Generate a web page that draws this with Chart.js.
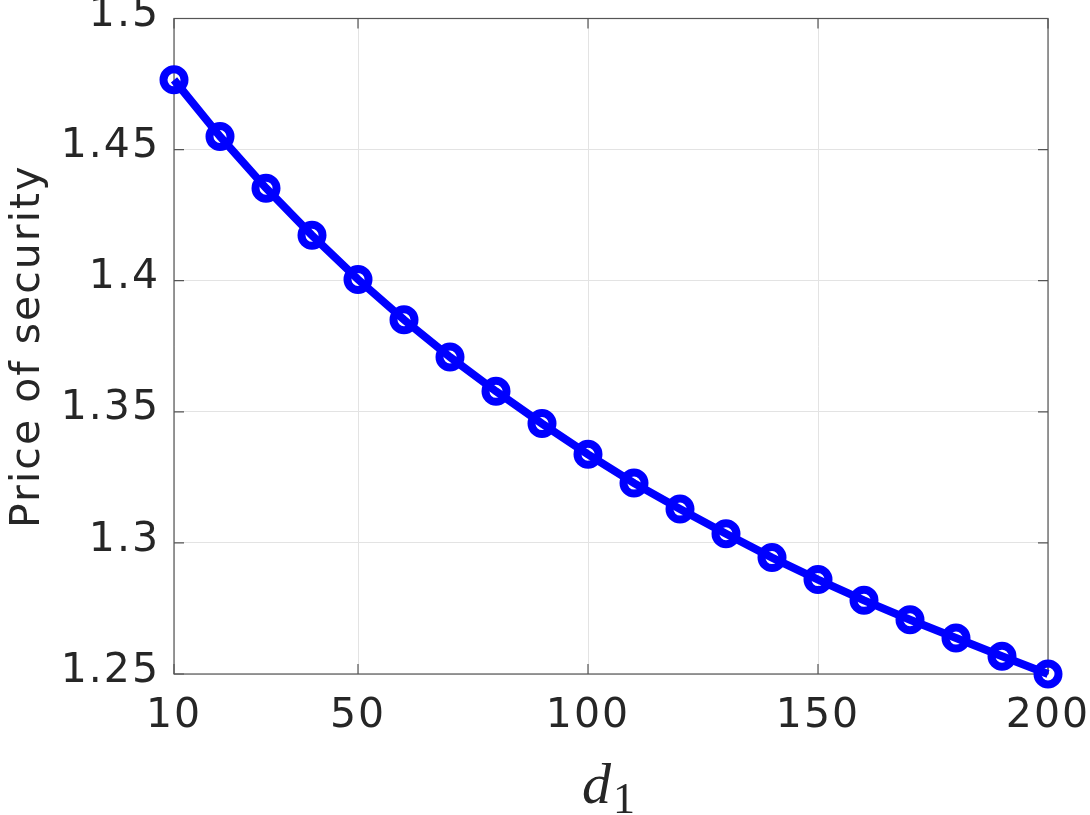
<!DOCTYPE html>
<html>
<head>
<meta charset="utf-8">
<script src="https://cdn.jsdelivr.net/npm/chart.js@4/dist/chart.umd.min.js"></script>
<style>
  html, body { margin: 0; padding: 0; background: #ffffff; }
  #wrap { width: 1090px; height: 815px; position: relative; }
</style>
</head>
<body>
<div id="wrap"><canvas id="c" width="1090" height="815"></canvas></div>
<script>
// ---- data ----
const d1Values = [10, 20, 30, 40, 50, 60, 70, 80, 90, 100, 110, 120, 130, 140, 150, 160, 170, 180, 190, 200];
const priceValues = [1.4766, 1.4550, 1.4353, 1.4173, 1.4005, 1.3851, 1.3709, 1.3578, 1.3455, 1.3338,
                     1.3228, 1.3129, 1.3035, 1.2944, 1.2860, 1.2781, 1.2707, 1.2637, 1.2568, 1.2500];
const xTickValues = [10, 50, 100, 150, 200];
const yTickValues = [1.25, 1.3, 1.35, 1.4, 1.45, 1.5];
const yAxisTitle = 'Price of security';
const xAxisTitleMain = 'd';
const xAxisTitleSub = '1';

const textColor = '#262626';
const tickFont = { family: 'DejaVu Sans', size: 41 };

const boxPlugin = {
  id: 'matlabBox',
  beforeDraw(chart) {
    chart.ctx.letterSpacing = '2px';
  },
  beforeDatasetsDraw(chart) {
    const { ctx, chartArea: a, scales } = chart;
    ctx.save();
    ctx.letterSpacing = '0px';
    ctx.strokeStyle = '#555555';
    ctx.lineWidth = 1.2;
    ctx.strokeRect(a.left, a.top, a.right - a.left, a.bottom - a.top);
    const tl = 10;
    ctx.beginPath();
    xTickValues.forEach(v => {
      const px = scales.x.getPixelForValue(v);
      ctx.moveTo(px, a.bottom); ctx.lineTo(px, a.bottom - tl);
      ctx.moveTo(px, a.top); ctx.lineTo(px, a.top + tl);
    });
    yTickValues.forEach(v => {
      const py = scales.y.getPixelForValue(v);
      ctx.moveTo(a.left, py); ctx.lineTo(a.left + tl, py);
      ctx.moveTo(a.right, py); ctx.lineTo(a.right - tl, py);
    });
    ctx.stroke();
    ctx.restore();
  },
  afterDraw(chart) {
    const { ctx, chartArea: a } = chart;
    ctx.save();
    ctx.letterSpacing = '0px';
    ctx.fillStyle = textColor;
    ctx.textBaseline = 'alphabetic';
    ctx.textAlign = 'left';
    const cx = (a.left + a.right) / 2;
    ctx.font = 'italic 58px "Liberation Serif"';
    ctx.fillText(xAxisTitleMain, cx - 29, 803);
    ctx.font = '44px "Liberation Serif"';
    ctx.fillText(xAxisTitleSub, cx + 2, 813);
    ctx.restore();
  }
};

new Chart(document.getElementById('c'), {
  type: 'line',
  data: {
    datasets: [{
      data: d1Values.map((x, i) => ({ x: x, y: priceValues[i] })),
      borderColor: '#0000ff',
      borderWidth: 8,
      tension: 0,
      fill: false,
      pointRadius: 10.5,
      pointHoverRadius: 10.5,
      pointBorderWidth: 8,
      pointBorderColor: '#0000ff',
      pointBackgroundColor: 'rgba(255,255,255,0)',
      clip: false
    }]
  },
  options: {
    responsive: false,
    animation: false,
    devicePixelRatio: 1,
    layout: { padding: { top: 18, right: 42, left: 0, bottom: 0 } },
    plugins: { legend: { display: false }, tooltip: { enabled: false } },
    scales: {
      x: {
        type: 'linear',
        min: 10, max: 200,
        afterBuildTicks: s => { s.ticks = xTickValues.map(v => ({ value: v })); },
        afterFit: s => { s.height = 141; s.paddingLeft = 0; s.paddingRight = 0; },
        grid: { color: '#e3e3e3', lineWidth: 1, drawTicks: false },
        border: { display: false },
        ticks: { font: tickFont, color: textColor, padding: 18, maxRotation: 0, autoSkip: false,
                 callback: v => String(v) }
      },
      y: {
        type: 'linear',
        min: 1.25, max: 1.5,
        afterBuildTicks: s => { s.ticks = yTickValues.map(v => ({ value: v })); },
        afterFit: s => { s.width = 174; s.paddingTop = 0; s.paddingBottom = 0; },
        grid: { color: '#e3e3e3', lineWidth: 1, drawTicks: false },
        border: { display: false },
        ticks: { font: tickFont, color: textColor, padding: 14, labelOffset: -3, autoSkip: false,
                 callback: v => String(Number(v.toFixed(2))) },
        title: { display: true, text: yAxisTitle, color: textColor,
                 font: { family: 'DejaVu Sans', size: 41 }, padding: { top: 4, bottom: 0 } }
      }
    }
  },
  plugins: [boxPlugin]
});
</script>
</body>
</html>
